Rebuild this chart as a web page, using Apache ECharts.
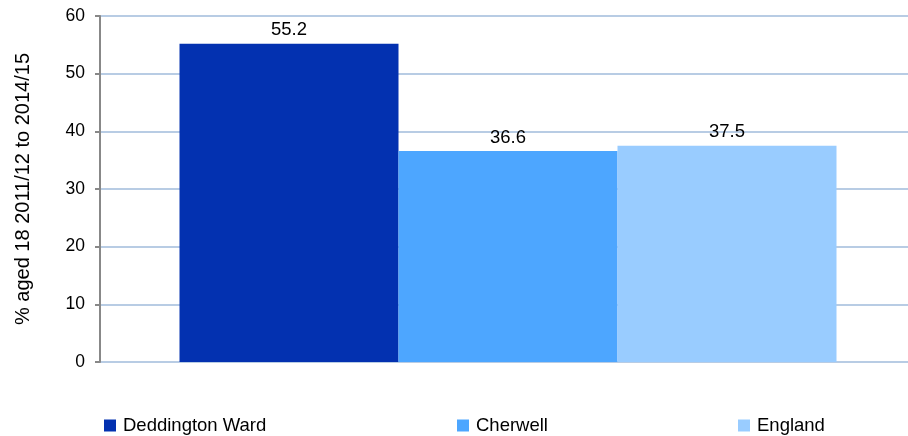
<!DOCTYPE html>
<html>
<head>
<meta charset="utf-8">
<script src="https://cdn.jsdelivr.net/npm/echarts@6/dist/echarts.min.js"></script>
<style>html,body{margin:0;padding:0;background:#fff}#c{width:908px;height:436px}</style>
</head>
<body>
<div id="c"></div>
<script>
var categories = [''];
var seriesNames = ['Deddington Ward', 'Cherwell', 'England'];
var deddington = [55.2];
var cherwell = [36.6];
var england = [37.5];
var yAxisTitle = '% aged 18 2011/12 to 2014/15';

var colors = ['#0331B0', '#4DA6FF', '#99CCFF'];
var values = [deddington, cherwell, england];
var font = 'Liberation Sans, Arial, sans-serif';

var chart = echarts.init(document.getElementById('c'));
var series = seriesNames.map(function (n, i) {
  return {
    name: n, type: 'bar', data: values[i], barWidth: 219, barGap: '0%',
    xAxisIndex: 1, yAxisIndex: 1,
    itemStyle: { color: colors[i] },
    label: { show: true, position: 'top', color: '#000', fontSize: 18.5, fontFamily: font, distance: 4 }
  };
});
var legendLefts = [104, 457, 738];
var legends = seriesNames.map(function (n, i) {
  return {
    data: [n], left: legendLefts[i], top: 416, itemWidth: 12, itemHeight: 12, icon: 'rect', padding: 0,
    textStyle: { color: '#000', fontSize: 18.5, fontFamily: font, padding: [0, 0, 0, 2] }, itemGap: 8
  };
});
chart.setOption({
  animation: false,
  textStyle: { fontFamily: font },
  grid: [
    { left: 100, right: 0, top: 16, bottom: 74, containLabel: false },
    { left: 108, right: 0, top: 16, bottom: 74, containLabel: false }
  ],
  legend: legends,
  xAxis: [
    { type: 'category', data: categories, gridIndex: 0, show: false },
    { type: 'category', data: categories, gridIndex: 1,
      axisLine: { show: false }, axisTick: { show: false }, axisLabel: { show: false } }
  ],
  yAxis: [
    {
      type: 'value', min: 0, max: 60, interval: 10, gridIndex: 0,
      name: yAxisTitle, nameLocation: 'middle', nameGap: 67,
      nameTextStyle: { color: '#000', fontSize: 20, fontFamily: font },
      axisLine: { show: true, lineStyle: { color: '#888', width: 2 } },
      axisTick: { show: true, length: 5, lineStyle: { color: '#888', width: 2 } },
      axisLabel: { color: '#000', fontSize: 17.5, fontFamily: font, margin: 15 },
      splitLine: { show: true, lineStyle: { color: '#B8CCE4', width: 2 } },
      z: 1
    },
    {
      type: 'value', min: 0, max: 60, interval: 10, gridIndex: 1, show: false,
      splitLine: { show: false }
    }
  ],
  series: series
});
</script>
</body>
</html>
